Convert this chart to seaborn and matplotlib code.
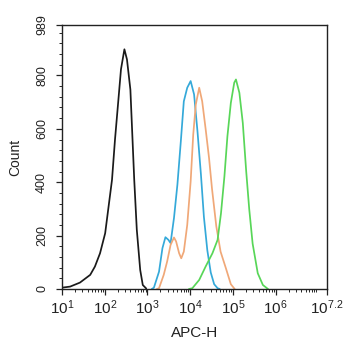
import numpy as np
import pandas as pd
import matplotlib
matplotlib.use("Agg")
import matplotlib.pyplot as plt
import matplotlib.ticker as mticker
import seaborn as sns

# Histogram outlines: log10(APC-H) channel position and event count
black_log = [1.00, 1.19, 1.42, 1.66, 1.77, 1.89, 2.01, 2.09, 2.17, 2.24, 2.32, 2.38,
             2.46, 2.52, 2.60, 2.64, 2.69, 2.75, 2.83, 2.89, 2.97]
black_cnt = [5, 9, 24, 53, 84, 134, 209, 309, 409, 560, 710, 823,
             898, 860, 747, 597, 409, 222, 71, 15, 2]

blue_log = [3.10, 3.15, 3.27, 3.35, 3.42, 3.49, 3.54, 3.62, 3.70, 3.78, 3.85, 3.93,
            4.01, 4.09, 4.17, 4.25, 4.32, 4.40, 4.48, 4.56, 4.64, 4.69]
blue_cnt = [0, 5, 65, 153, 194, 184, 172, 266, 391, 553, 703, 754,
            779, 729, 590, 430, 270, 145, 62, 18, 3, 0]

orange_log = [3.22, 3.27, 3.38, 3.46, 3.54, 3.62, 3.67, 3.74, 3.79, 3.85, 3.93, 4.01,
              4.07, 4.13, 4.21, 4.28, 4.36, 4.44, 4.51, 4.61, 4.71, 4.83, 4.95, 5.04]
orange_cnt = [0, 3, 53, 103, 165, 193, 178, 134, 115, 140, 240, 403,
              578, 691, 754, 703, 600, 491, 375, 235, 140, 80, 18, 0]

green_log = [3.97, 4.05, 4.21, 4.36, 4.52, 4.64, 4.72, 4.80, 4.87, 4.95, 5.03, 5.07,
             5.15, 5.23, 5.31, 5.38, 5.46, 5.58, 5.70, 5.82]
green_cnt = [0, 3, 34, 84, 134, 184, 284, 422, 572, 697, 773, 785,
             735, 622, 440, 300, 170, 59, 15, 0]

series_names = ["control", "sample 1", "sample 2", "sample 3"]
series_colors = ["#1a1a1a", "#35a9d9", "#f0a878", "#58d658"]

tick_exps = [1, 2, 3, 4, 5, 6, 7.2]
tick_labels = ["$10^{1}$", "$10^{2}$", "$10^{3}$", "$10^{4}$", "$10^{5}$", "$10^{6}$", "$10^{7.2}$"]
y_ticks = [0, 200, 400, 600, 800, 989]

sns.set_style("ticks")
plt.rcParams["font.family"] = ["Liberation Sans", "DejaVu Sans"]
plt.rcParams["mathtext.fontset"] = "custom"
plt.rcParams["mathtext.rm"] = "Liberation Sans"
plt.rcParams["mathtext.it"] = "Liberation Sans:italic"

frames = []
for name, lg, ct in zip(series_names,
                        [black_log, blue_log, orange_log, green_log],
                        [black_cnt, blue_cnt, orange_cnt, green_cnt]):
    frames.append(pd.DataFrame({"APC-H": np.power(10.0, lg), "Count": ct, "sample": name}))
df = pd.concat(frames, ignore_index=True)

fig = plt.figure(figsize=(3.43, 3.50), dpi=100)
ax = fig.add_axes([62 / 343, 1 - 289 / 350, (327 - 62) / 343, (289 - 25) / 350])

sns.lineplot(data=df, x="APC-H", y="Count", hue="sample", hue_order=series_names,
             palette=series_colors, linewidth=1.25, legend=False, sort=False,
             estimator=None, ax=ax)

ax.set_xscale("log")
ax.set_xlim(10 ** 1, 10 ** 7.2)
ax.set_ylim(0, 989)

ax.xaxis.set_major_locator(mticker.FixedLocator([10 ** e for e in tick_exps]))
ax.xaxis.set_major_formatter(mticker.FixedFormatter(tick_labels))
ax.xaxis.set_minor_locator(mticker.LogLocator(base=10, subs=np.arange(2, 10), numticks=20))
ax.xaxis.set_minor_formatter(mticker.NullFormatter())

ax.yaxis.set_major_locator(mticker.FixedLocator(y_ticks))
ax.yaxis.set_minor_locator(mticker.MultipleLocator(40))
ax.set_yticklabels([str(v) for v in y_ticks], rotation=90, va="center")

ax.tick_params(axis="x", which="major", length=4, width=0.9, labelsize=11, pad=3, colors="#222222")
ax.tick_params(axis="x", which="minor", length=2, width=0.7)
ax.tick_params(axis="y", which="major", length=4, width=0.9, labelsize=9, pad=6, colors="#222222")
ax.tick_params(axis="y", which="minor", length=2.5, width=0.7)

for sp in ax.spines.values():
    sp.set_visible(True)
    sp.set_linewidth(1.0)
    sp.set_color("#222222")

ax.set_xlabel("APC-H", fontsize=11, labelpad=6, color="#222222")
ax.set_ylabel("Count", fontsize=10, labelpad=10, color="#222222")

fig.savefig("out.png", dpi=100)
